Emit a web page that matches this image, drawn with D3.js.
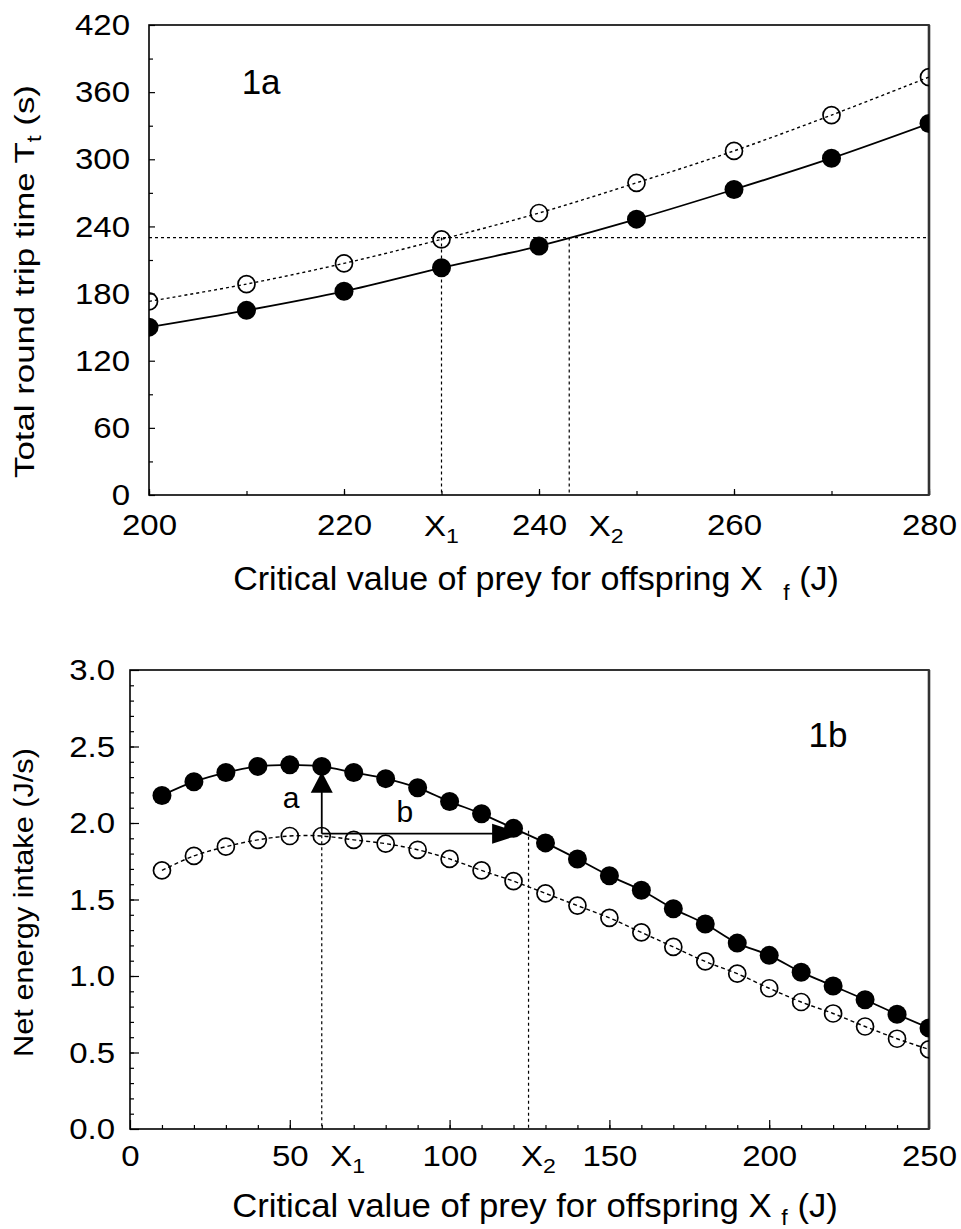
<!DOCTYPE html>
<html><head><meta charset="utf-8">
<script src="https://cdn.jsdelivr.net/npm/d3@7"></script>
<style>
body{margin:0;background:#fff}
text{font-family:"Liberation Sans",Arial,Helvetica,sans-serif;fill:#000}
</style>
</head><body>
<svg id="chart" width="961" height="1229"></svg>
<script>
// ---------- Panel 1a data ----------
const topX = [200, 210, 220, 230, 240, 250, 260, 270, 280];
const topFilled = [150, 165, 182, 203, 222.5, 246.5, 273, 301, 332];
const topOpen = [173, 188.5, 207, 228.5, 252, 279, 307.5, 339.5, 373.5];
const topXTickLabels = [200, 220, 240, 260, 280];
const topYTickLabels = [0, 60, 120, 180, 240, 300, 360, 420];
const topRefY = 230;
const topRefX = [230, 243.1];
const topRefNames = ["1", "2"];

// ---------- Panel 1b data ----------
const botX = [10, 20, 30, 40, 50, 60, 70, 80, 90, 100, 110, 120, 130, 140, 150, 160, 170, 180, 190, 200, 210, 220, 230, 240, 250];
const botFilled = [2.18, 2.27, 2.33, 2.37, 2.38, 2.37, 2.33, 2.29, 2.23, 2.14, 2.06, 1.965, 1.87, 1.765, 1.655, 1.56, 1.44, 1.34, 1.215, 1.135, 1.025, 0.935, 0.845, 0.75, 0.66];
const botOpen = [1.69, 1.785, 1.845, 1.89, 1.915, 1.915, 1.89, 1.865, 1.825, 1.765, 1.69, 1.62, 1.54, 1.46, 1.38, 1.285, 1.19, 1.095, 1.015, 0.92, 0.83, 0.755, 0.67, 0.59, 0.52];
const botXTickLabels = [0, 50, 100, 150, 200, 250];
const botYTickLabels = [0, 0.5, 1.0, 1.5, 2.0, 2.5, 3.0];
const botRefX = [60, 124.7];
const botRefTop = [1.92, 1.95];
const botRefNames = ["1", "2"];
const arrowA = {x: 60, y0: 1.93, y1: 2.335};
const arrowB = {y: 1.93, x0: 60, x1: 123};

const svg = d3.select("#chart");
const TICK_FS = 30, TICK_SX = 1.1;

function fitText(sel, target) {
  const w = sel.node().getBBox().width;
  return target / w;
}

function drawPanel(cfg) {
  const g = svg.append("g");
  const x = d3.scaleLinear().domain(cfg.xDomain).range([cfg.left, cfg.right]);
  const y = d3.scaleLinear().domain(cfg.yDomain).range([cfg.bottom, cfg.top]);
  const clipId = "clip" + cfg.id;
  svg.append("defs").append("clipPath").attr("id", clipId)
    .append("rect").attr("x", cfg.left).attr("y", cfg.top)
    .attr("width", cfg.right - cfg.left).attr("height", cfg.bottom - cfg.top);

  // minor ticks
  g.append("g").attr("transform", `translate(0,${cfg.bottom})`)
    .call(d3.axisBottom(x).tickValues(cfg.xMinor).tickSize(-cfg.minorLen).tickFormat(""))
    .call(s => s.select(".domain").remove());
  g.append("g").attr("transform", `translate(${cfg.left},0)`)
    .call(d3.axisLeft(y).tickValues(cfg.yMinor).tickSize(-cfg.minorLen).tickFormat(""))
    .call(s => s.select(".domain").remove());
  // major ticks
  const xa = g.append("g").attr("transform", `translate(0,${cfg.bottom})`)
    .call(d3.axisBottom(x).tickValues(cfg.xTicks).tickSize(-cfg.majorLen).tickPadding(cfg.xPad).tickFormat(cfg.xFmt))
    .call(s => s.select(".domain").remove());
  xa.selectAll("text").attr("font-size", TICK_FS).attr("font-family", null).attr("transform", `scale(${TICK_SX},1)`);
  const ya = g.append("g").attr("transform", `translate(${cfg.left},0)`)
    .call(d3.axisLeft(y).tickValues(cfg.yTicks).tickSize(-cfg.majorLen).tickPadding(cfg.yPad).tickFormat(cfg.yFmt))
    .call(s => s.select(".domain").remove());
  ya.selectAll("text").attr("font-size", TICK_FS).attr("font-family", null)
    .attr("x", -cfg.yPad / TICK_SX).attr("transform", `scale(${TICK_SX},1)`);
  g.selectAll(".tick line").attr("stroke", "#000").attr("stroke-width", 1.2);

  // frame
  g.append("rect").attr("x", cfg.left).attr("y", cfg.top)
    .attr("width", cfg.right - cfg.left).attr("height", cfg.bottom - cfg.top)
    .attr("fill", "none").attr("stroke", "#000").attr("stroke-width", 1.6);
  g.append("line").attr("x1", cfg.right).attr("x2", cfg.right).attr("y1", cfg.top).attr("y2", cfg.bottom)
    .attr("stroke", "#333").attr("stroke-width", 2.6);

  const plot = g.append("g").attr("clip-path", `url(#${clipId})`);
  return {g, x, y, plot};
}

function drawSeries(p, xs, open, filled, rOpen, rFilled, openDash) {
  const line = d3.line().x((d, i) => p.x(xs[i])).y(d => p.y(d)).curve(d3.curveCatmullRom);
  p.plot.append("path").attr("d", line(open)).attr("fill", "none")
    .attr("stroke", "#000").attr("stroke-width", 1.4).attr("stroke-dasharray", openDash);
  p.plot.append("path").attr("d", line(filled)).attr("fill", "none")
    .attr("stroke", "#000").attr("stroke-width", 1.8);
  p.plot.selectAll(".open").data(open).join("circle")
    .attr("cx", (d, i) => p.x(xs[i])).attr("cy", d => p.y(d)).attr("r", rOpen)
    .attr("fill", "none").attr("stroke", "#000").attr("stroke-width", 1.7);
  p.plot.selectAll(".filled").data(filled).join("circle")
    .attr("cx", (d, i) => p.x(xs[i])).attr("cy", d => p.y(d)).attr("r", rFilled)
    .attr("fill", "#000");
}

function subLabel(g, xPos, yPos, main, sub, fs, subFs, subDy) {
  const t = g.append("text").attr("font-size", fs).attr("text-anchor", "middle")
    .attr("transform", `translate(${xPos},${yPos}) scale(${TICK_SX},1)`);
  t.append("tspan").text(main);
  t.append("tspan").attr("dy", subDy).attr("font-size", subFs).text(sub);
  return t;
}

// ================= Panel 1a =================
const pa = drawPanel({
  id: "a", xDomain: [200, 280], yDomain: [0, 420],
  left: 149, right: 929, top: 25, bottom: 495,
  xTicks: topXTickLabels, xMinor: topX, yTicks: topYTickLabels,
  yMinor: d3.range(30, 420, 60),
  majorLen: 6, minorLen: 4, xPad: 19, yPad: 19,
  xFmt: d3.format("d"), yFmt: d3.format("d")
});
// reference lines
pa.plot.append("line").attr("x1", pa.x(200)).attr("x2", pa.x(280))
  .attr("y1", pa.y(topRefY)).attr("y2", pa.y(topRefY))
  .attr("stroke", "#000").attr("stroke-width", 1.2).attr("stroke-dasharray", "3,3");
topRefX.forEach(v => {
  pa.plot.append("line").attr("x1", pa.x(v)).attr("x2", pa.x(v))
    .attr("y1", pa.y(topRefY)).attr("y2", pa.y(0))
    .attr("stroke", "#000").attr("stroke-width", 1.2).attr("stroke-dasharray", "3,3");
});
drawSeries(pa, topX, topOpen, topFilled, 8.5, 9.5, "3,3");
subLabel(pa.g, pa.x(topRefX[0]), 536, "X", topRefNames[0], TICK_FS, 21, 7);
subLabel(pa.g, pa.x(topRefX[1]) + 37, 536, "X", topRefNames[1], TICK_FS, 21, 7);
pa.g.append("text").attr("x", pa.x(211.5)).attr("y", pa.y(358)).attr("text-anchor", "middle")
  .attr("font-size", 35).text("1a");

// y title
{
  const t = svg.append("text").attr("font-size", 28).attr("text-anchor", "middle");
  t.append("tspan").text("Total round trip time T");
  t.append("tspan").attr("dy", 7).attr("font-size", 20).text("t");
  t.append("tspan").attr("dy", -7).text(" (s)");
  const k = fitText(t, 393);
  t.attr("transform", `translate(34,281.5) rotate(-90) scale(${k},1)`);
}
// x title
{
  const t = svg.append("text").attr("font-size", 33).attr("text-anchor", "middle");
  t.append("tspan").text("Critical value of prey for offspring X");
  t.append("tspan").attr("dx", 20).attr("dy", 10).attr("font-size", 22).text("f");
  t.append("tspan").attr("dy", -10).text(" (J)");
  const k = fitText(t, 606);
  t.attr("transform", `translate(536,590) scale(${k},1)`);
}

// ================= Panel 1b =================
const pb = drawPanel({
  id: "b", xDomain: [0, 250], yDomain: [0, 3],
  left: 130, right: 929, top: 670, bottom: 1129,
  xTicks: botXTickLabels, xMinor: d3.range(10, 250, 10), yTicks: botYTickLabels,
  yMinor: d3.range(0.1, 3.0, 0.1),
  majorLen: 9, minorLen: 4, xPad: 16, yPad: 15,
  xFmt: d3.format("d"), yFmt: d3.format(".1f")
});
botRefX.forEach((v, i) => {
  pb.plot.append("line").attr("x1", pb.x(v)).attr("x2", pb.x(v))
    .attr("y1", pb.y(botRefTop[i])).attr("y2", pb.y(0))
    .attr("stroke", "#000").attr("stroke-width", 1.2).attr("stroke-dasharray", "3,3");
});
drawSeries(pb, botX, botOpen, botFilled, 8.5, 9.5, "4,3");
// arrows
{
  const ax = pb.x(arrowA.x), ay0 = pb.y(arrowA.y0), ay1 = pb.y(arrowA.y1);
  pb.g.append("line").attr("x1", ax).attr("x2", ax).attr("y1", ay0).attr("y2", ay1 + 18)
    .attr("stroke", "#000").attr("stroke-width", 1.8);
  pb.g.append("path").attr("d", `M${ax},${ay1} L${ax - 11},${ay1 + 21} L${ax + 11},${ay1 + 21} Z`).attr("fill", "#000");
  const bx0 = pb.x(arrowB.x0), bx1 = pb.x(arrowB.x1), by = pb.y(arrowB.y);
  pb.g.append("line").attr("x1", bx0).attr("x2", bx1 - 28).attr("y1", by).attr("y2", by)
    .attr("stroke", "#000").attr("stroke-width", 1.8);
  pb.g.append("path").attr("d", `M${bx1},${by} L${bx1 - 31},${by - 10} L${bx1 - 31},${by + 10} Z`).attr("fill", "#000");
  pb.g.append("text").attr("x", pb.x(50.4)).attr("y", pb.y(2.1)).attr("text-anchor", "middle")
    .attr("font-size", 30).text("a");
  pb.g.append("text").attr("x", pb.x(86)).attr("y", pb.y(2.007)).attr("text-anchor", "middle")
    .attr("font-size", 30).text("b");
}
subLabel(pb.g, pb.x(botRefX[0]) + 26, 1166, "X", botRefNames[0], TICK_FS, 21, 7);
subLabel(pb.g, pb.x(botRefX[1]) + 10, 1166, "X", botRefNames[1], TICK_FS, 21, 7);
pb.g.append("text").attr("x", pb.x(218.4)).attr("y", pb.y(2.5)).attr("text-anchor", "middle")
  .attr("font-size", 35).text("1b");

// y title
{
  const t = svg.append("text").attr("font-size", 28).attr("text-anchor", "middle")
    .text("Net energy intake (J/s)");
  const k = fitText(t, 309);
  t.attr("transform", `translate(33,902.5) rotate(-90) scale(${k},1)`);
}
// x title
{
  const t = svg.append("text").attr("font-size", 33).attr("text-anchor", "middle");
  t.append("tspan").text("Critical value of prey for offspring X ");
  t.append("tspan").attr("dy", 8).attr("font-size", 22).text("f");
  t.append("tspan").attr("dy", -8).text(" (J)");
  const k = fitText(t, 606);
  t.attr("transform", `translate(535,1217) scale(${k},1)`);
}
</script>
</body></html>
